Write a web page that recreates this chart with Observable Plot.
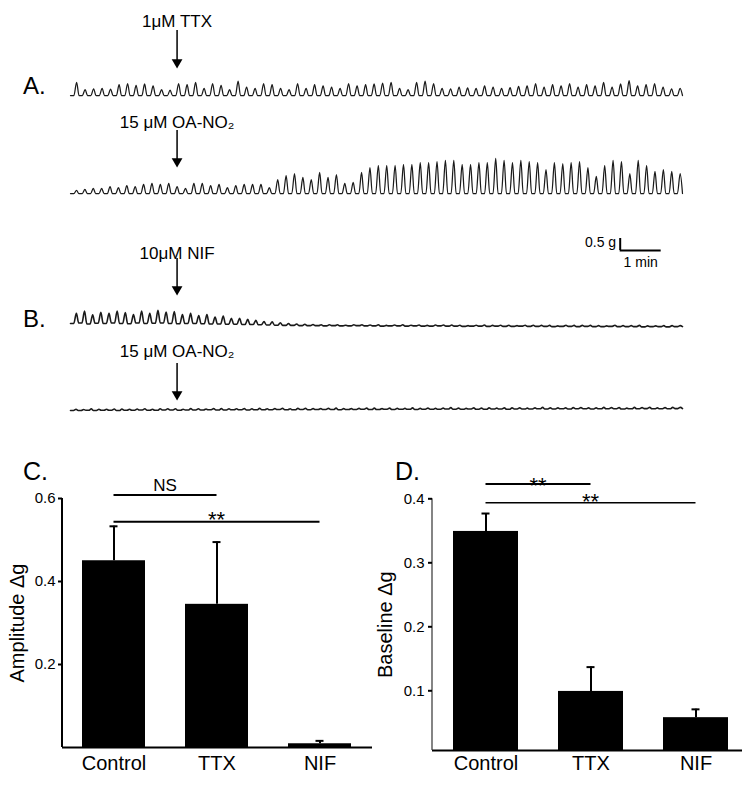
<!DOCTYPE html>
<html><head><meta charset="utf-8">
<script src="https://cdn.jsdelivr.net/npm/d3@7"></script>
<script src="https://cdn.jsdelivr.net/npm/@observablehq/plot@0.6"></script>
<style>
body{margin:0;background:#fff;}
#fig{position:relative;width:750px;height:786px;font-family:"Liberation Sans",Arial,Helvetica,sans-serif;color:#000;}
#fig > div{position:absolute;}
.letter{font-size:24px;line-height:24px;}
</style></head><body>
<div id="fig">
  <div id="traces" style="left:0;top:0"></div>
  <div id="panelC" style="left:0;top:440px"></div>
  <div id="panelD" style="left:375px;top:440px"></div>
  <div class="letter" style="left:23px;top:74px">A.</div>
  <div class="letter" style="left:23px;top:307px">B.</div>
  <div class="letter" style="left:23px;top:459px;font-size:25px">C.</div>
  <div class="letter" style="left:395px;top:459px;font-size:25px">D.</div>
</div>
<script>
// ---------- DATA ----------
const traceMinutes = 14.93;          // length of each recording (min)
const drugTime = 2.6;                // drug added (min)
const drugLabels = ["1μM TTX", "15 μM OA-NO₂", "10μM NIF", "15 μM OA-NO₂"];

// peak tension above trough per contraction (g)
const peaksA1 = [0.55,0.25,0.28,0.3,0.27,0.45,0.5,0.42,0.48,0.4,0.25,0.22,0.5,0.45,0.55,0.3,0.5,0.42,0.25,0.6,0.35,0.3,0.5,0.45,0.3,0.25,0.5,0.3,0.45,0.4,0.35,0.3,0.5,0.4,0.45,0.48,0.52,0.55,0.3,0.25,0.55,0.6,0.5,0.3,0.28,0.35,0.32,0.3,0.4,0.35,0.3,0.33,0.38,0.4,0.5,0.35,0.45,0.4,0.5,0.35,0.45,0.4,0.55,0.35,0.48,0.62,0.4,0.45,0.5,0.35,0.28,0.3];
const peaksA2 = [0.13,0.17,0.21,0.21,0.29,0.25,0.33,0.29,0.38,0.42,0.38,0.42,0.29,0.21,0.42,0.42,0.33,0.38,0.25,0.33,0.38,0.38,0.38,
  0.25,0.58,0.75,0.83,0.67,0.58,0.88,0.67,0.79,0.42,0.46,
  0.88,1.08,1.17,1.17,1.17,1.21,1.21,1.29,1.29,1.33,1.38,1.38,1.21,1.21,1.29,1.29,1.46,1.38,1.29,1.38,1.33,1.29,1.0,1.29,1.25,1.29,1.33,1.08,0.71,1.17,1.38,1.33,0.83,1.38,1.17,0.92,1.0,0.92,0.83];
const peaksB1 = [0.42,0.5,0.38,0.46,0.42,0.5,0.46,0.38,0.5,0.42,0.54,0.46,0.5,0.38,0.42,0.33,0.38,0.29,0.33,0.25,0.25,0.21,0.17,
  0.13,0.13,0.1,0.08,0.06,0.06,0.05,
  0.04,0.05,0.04,0.03,0.05,0.04,0.04,0.05,0.03,0.04,0.05,0.04,0.04,0.03,0.05,0.04,0.05,0.04,0.03,0.04,0.05,0.04,0.04,0.05,0.03,0.04,0.05,0.04,0.04,0.03,0.05,0.04,0.05,0.04,0.04,0.03,0.05,0.04,0.04,0.05,0.04,0.03,0.04,0.05,0.04];
const troughsB1 = [0,0.02,-0.02,0.01,0,0.02,0,-0.01,0.02,0,0.01,0.02,0,-0.01,0,0,-0.01,-0.02,-0.02,-0.03,-0.03,-0.04,-0.04,
  -0.05,-0.06,-0.07,-0.08,-0.08,-0.09,-0.09,
  -0.09,-0.1,-0.09,-0.1,-0.1,-0.09,-0.1,-0.1,-0.11,-0.1,-0.1,-0.11,-0.1,-0.11,-0.11,-0.1,-0.11,-0.11,-0.12,-0.11,-0.11,-0.12,-0.11,-0.12,-0.12,-0.11,-0.12,-0.12,-0.12,-0.13,-0.12,-0.12,-0.13,-0.12,-0.13,-0.13,-0.12,-0.13,-0.13,-0.13,-0.14,-0.13,-0.13,-0.14,-0.13];
const peaksB2 = [0.05,0.04,0.06,0.05,0.04,0.05,0.06,0.04,0.05,0.05,0.04,0.06,0.05,0.05,0.04,0.06,0.05,0.04,0.05,0.06,0.05,0.04,0.05,0.05,0.06,0.04,0.05,0.05,0.04,0.06,0.05,0.05,0.04,0.05,0.06,0.05,0.04,0.05,0.05,0.06,0.04,0.05,0.05,0.04,0.06,0.05,0.05,0.04,0.05,0.06,0.05,0.04,0.05,0.05,0.06,0.04,0.05,0.06,0.05,0.04,0.05,0.06,0.05,0.05,0.04,0.06,0.05,0.04,0.05,0.06,0.05,0.05,0.04,0.06,0.05,0.05,0.04,0.05,0.06,0.05];
const troughsB2 = [0,0,0.01,0,0.01,0.01,0,0.01,0.01,0.02,0.01,0.01,0.02,0.02,0.01,0.02,0.02,0.02,0.03,0.02,0.02,0.03,0.03,0.02,0.03,0.03,0.03,0.04,0.03,0.03,0.04,0.03,0.04,0.04,0.04,0.03,0.04,0.04,0.05,0.04,0.04,0.05,0.04,0.05,0.05,0.04,0.05,0.05,0.05,0.06,0.05,0.05,0.06,0.05,0.05,0.06,0.06,0.05,0.06,0.06,0.06,0.07,0.06,0.06,0.07,0.06,0.07,0.07,0.06,0.07,0.07,0.07,0.06,0.07,0.07,0.08,0.07,0.07,0.07,0.08];

const scaleBarG = 0.5, scaleBarMin = 1;

const categories = ["Control", "TTX", "NIF"];
const amplitudeMean = [0.45, 0.345, 0.009];
const amplitudeSEM = [0.083, 0.15, 0.007];
const baselineMean = [0.349, 0.099, 0.058];
const baselineSEM = [0.028, 0.038, 0.013];

// ---------- LAYOUT ----------
const font = '"Liberation Sans", Arial, Helvetica, sans-serif';
const gPerPx = 1 / 24;
const rows = [
  {id: "A1", peaks: peaksA1, troughs: null,       base: 345 * gPerPx, label: drugLabels[0], labelUp: 74, arrowTop: 65, arrowTip: 27, w: 1.25},
  {id: "A2", peaks: peaksA2, troughs: null,       base: 247 * gPerPx, label: drugLabels[1], labelUp: 71, arrowTop: 63, arrowTip: 26, w: 1.25},
  {id: "B1", peaks: peaksB1, troughs: troughsB1,  base: 117 * gPerPx, label: drugLabels[2], labelUp: 70, arrowTop: 65, arrowTip: 28, w: 1.6},
  {id: "B2", peaks: peaksB2, troughs: troughsB2,  base: 30 * gPerPx,  label: drugLabels[3], labelUp: 59, arrowTop: 47, arrowTip: 10, w: 1.6}
];

function wave(row) {
  const n = row.peaks.length, P = traceMinutes / n, pts = [];
  for (let i = 0; i < n; i++) {
    const b = row.troughs ? (row.troughs[i] ?? 0) : 0;
    pts.push({id: row.id, t: i * P, v: row.base + b});
    pts.push({id: row.id, t: (i + 0.4) * P, v: row.base + b});
    pts.push({id: row.id, t: (i + 0.72) * P, v: row.base + b + row.peaks[i]});
  }
  const last = row.troughs ? row.troughs[n - 1] : 0;
  pts.push({id: row.id, t: traceMinutes, v: row.base + last});
  return pts;
}

const scaleBar = [{t: 13.41, g: 190 * gPerPx}];

const tracePlot = Plot.plot({
  width: 750, height: 440, marginTop: 0, marginBottom: 0, marginLeft: 70, marginRight: 68,
  x: {domain: [0, traceMinutes], axis: null},
  y: {domain: [0, 440 * gPerPx], axis: null},
  style: {fontFamily: font, fontSize: "17px", background: "white", color: "black"},
  marks: [
    ...rows.map(r => Plot.line(wave(r), {x: "t", y: "v", stroke: "#1a1a1a", strokeWidth: r.w, curve: "monotone-x"})),
    Plot.ruleX(rows, {x: () => drugTime, y1: r => r.base + r.arrowTop * gPerPx, y2: r => r.base + (r.arrowTip + 7) * gPerPx, stroke: "black", strokeWidth: 1.5}),
    Plot.dot(rows, {x: () => drugTime, y: r => r.base + (r.arrowTip + 6.2) * gPerPx, symbol: "triangle", rotate: 180, r: 4, fill: "black", stroke: null}),
    Plot.text(rows, {x: () => drugTime, y: r => r.base + r.labelUp * gPerPx, text: "label", fontSize: 17, fill: "black"}),
    Plot.ruleX(scaleBar, {x: "t", y1: "g", y2: d => d.g + scaleBarG, stroke: "black", strokeWidth: 2}),
    Plot.ruleY(scaleBar, {y: "g", x1: "t", x2: d => d.t + scaleBarMin, stroke: "black", strokeWidth: 2}),
    Plot.text(scaleBar, {x: d => d.t - 0.1, y: d => d.g + 0.32, text: () => "0.5 g", textAnchor: "end", fontSize: 14, fill: "black"}),
    Plot.text(scaleBar, {x: d => d.t + scaleBarMin / 2, y: d => d.g - 0.5, text: () => "1 min", fontSize: 14, fill: "black"})
  ]
});
document.getElementById("traces").append(tracePlot);

// ---------- BAR PANELS ----------
function yAxisLine(y0, y1, w, color) {
  return (index, scales, values, dims) =>
    d3.create("svg:line")
      .attr("x1", dims.marginLeft).attr("x2", dims.marginLeft)
      .attr("y1", scales.y(y0)).attr("y2", scales.y(y1))
      .attr("stroke", color).attr("stroke-width", w).node();
}
function brackets(sigs) {
  return (index, scales, values, dims) => {
    const x = scales.x, y = scales.y, bw = x.bandwidth();
    const cx = c => x(c) + bw / 2;
    const g = d3.create("svg:g");
    for (const s of sigs) {
      const x1 = cx(s.from), x2 = cx(s.to);
      g.append("line").attr("x1", x1).attr("x2", x2).attr("y1", y(s.y)).attr("y2", y(s.y))
        .attr("stroke", "black").attr("stroke-width", s.w);
      const tx = s.at === "mid" ? (x1 + x2) / 2 : cx(s.at);
      g.append("text").attr("x", tx).attr("y", y(s.ty)).attr("text-anchor", "middle")
        .attr("font-size", s.fs).attr("fill", "black").text(s.text);
    }
    return g.node();
  };
}

function barPanel(opts) {
  const data = categories.map((c, i) => ({cat: c, mean: opts.mean[i], sem: opts.sem[i]}));
  return Plot.plot({
    width: 375, height: 346,
    marginLeft: opts.ml, marginRight: opts.mr, marginTop: opts.mt, marginBottom: opts.mb,
    style: {fontFamily: font, fontSize: "15px", background: "white", color: "black"},
    x: {domain: categories, paddingInner: opts.pi, paddingOuter: opts.po, align: opts.align},
    y: {domain: opts.ydomain},
    marks: [
      Plot.barY(data, {x: "cat", y: "mean", fill: "black", clip: true}),
      Plot.ruleX(data, {x: "cat", y1: "mean", y2: d => d.mean + d.sem, stroke: "black", strokeWidth: 2}),
      Plot.tickY(data, {x: "cat", y: d => d.mean + d.sem, stroke: "black", strokeWidth: 2, insetLeft: opts.cap, insetRight: opts.cap}),
      Plot.ruleY([opts.ydomain[0]], {stroke: "black", strokeWidth: 2.2}),
      yAxisLine(opts.ydomain[1], opts.ydomain[0], opts.yw, opts.yc),
      Plot.axisY({ticks: opts.ticks, tickSize: 4, tickPadding: opts.tp, tickFormat: d => d.toFixed(1), fontSize: 15, label: null, strokeWidth: 2}),
      Plot.axisX({tickSize: 0, tickPadding: opts.xp, fontSize: 20, label: null}),
      Plot.text([opts.ylabel], {frameAnchor: "left", textAnchor: "middle", rotate: -90, dx: opts.ldx, fontSize: 20, fill: "black"}),
      brackets(opts.sigs)
    ]
  });
}

document.getElementById("panelC").append(barPanel({
  mean: amplitudeMean, sem: amplitudeSEM, ylabel: "Amplitude Δg",
  ml: 62, mr: 3, mt: 58, mb: 39, pi: 0.3835, po: 0.1966, align: 0.5,
  ydomain: [0, 0.6], ticks: [0.2, 0.4, 0.6], tp: 3, xp: 8.5, ldx: -45, cap: 27.5, yw: 2, yc: "black",
  sigs: [
    {from: "Control", to: "TTX", y: 0.607, text: "NS", ty: 0.618, at: "mid", fs: 17, w: 2},
    {from: "Control", to: "NIF", y: 0.543, text: "**", ty: 0.529, at: "TTX", fs: 22, w: 2}
  ]
}));

document.getElementById("panelD").append(barPanel({
  mean: baselineMean, sem: baselineSEM, ylabel: "Baseline Δg",
  ml: 57, mr: 8, mt: 58.3, mb: 36, pi: 0.382, po: 0.164, align: 0.61,
  ydomain: [0.0067, 0.4], ticks: [0.1, 0.2, 0.3, 0.4], tp: 4, xp: 5.5, ldx: -47, cap: 28.5, yw: 1.2, yc: "#333",
  sigs: [
    {from: "Control", to: "TTX", y: 0.4223, text: "**", ty: 0.409, at: "mid", fs: 22, w: 2},
    {from: "Control", to: "NIF", y: 0.3931, text: "**", ty: 0.3825, at: "TTX", fs: 22, w: 1.6}
  ]
}));
</script>
</body></html>
